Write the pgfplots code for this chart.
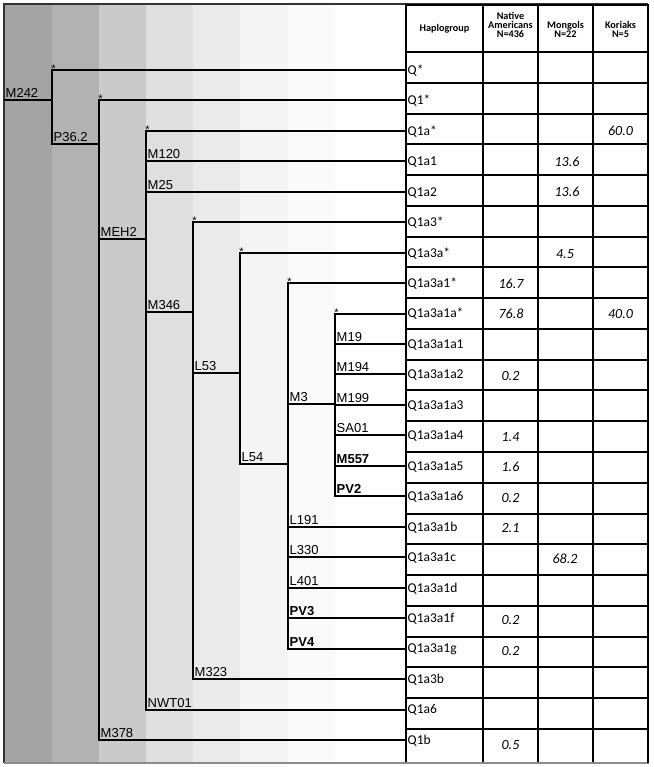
\documentclass[border=0pt]{standalone}
\usepackage{pgfplots}
\pgfplotsset{compat=1.18}
\usepackage{fontspec}
\setmainfont{Liberation Sans}
\newfontfamily\calib{Carlito}
\definecolor{bA}{HTML}{A4A4A4}
\definecolor{bB}{HTML}{B2B2B2}
\definecolor{bC}{HTML}{CACACA}
\definecolor{bD}{HTML}{DFDFDF}
\definecolor{bE}{HTML}{EAEAEA}
\definecolor{bF}{HTML}{F4F4F4}
\definecolor{bG}{HTML}{FAFAFA}
\definecolor{frm}{HTML}{333333}
\definecolor{frmb}{HTML}{8C8C8C}
\begin{document}
\begin{tikzpicture}[
  tree/.style={black, line width=2pt, line join=miter, mark=none},
  tab/.style={black, line width=2pt, mark=none},
  lab/.style={anchor=base west, inner sep=0pt, font=\fontsize{13}{14}\selectfont},
  blab/.style={anchor=base west, inner sep=0pt, font=\bfseries\fontsize{13}{14}\selectfont},
  star/.style={anchor=base, inner sep=0pt, font=\fontsize{11}{12}\selectfont},
  name/.style={anchor=base west, inner sep=0pt, font=\calib\fontsize{13.5}{14}\selectfont},
  val/.style={anchor=base, inner sep=0pt, font=\calib\itshape\fontsize{14}{14}\selectfont},
  head/.style={anchor=center, align=center, inner sep=0pt, font=\calib\bfseries\fontsize{10.2}{8.8}\selectfont},
]
\begin{axis}[scale only axis, width=653pt, height=767pt,
  xmin=0, xmax=653, ymin=0, ymax=767, y dir=reverse, hide axis, clip=false,
  unbounded coords=jump,
]
% background
\addplot[fill=white, draw=none, mark=none] coordinates {(0,0)(653,0)(653,767)(0,767)} -- cycle;
\addplot[fill=bA, draw=none, mark=none] coordinates {(4,4)(52,4)(52,763)(4,763)} -- cycle;
\addplot[fill=bB, draw=none, mark=none] coordinates {(52,4)(99,4)(99,763)(52,763)} -- cycle;
\addplot[fill=bC, draw=none, mark=none] coordinates {(99,4)(146,4)(146,763)(99,763)} -- cycle;
\addplot[fill=bD, draw=none, mark=none] coordinates {(146,4)(193,4)(193,763)(146,763)} -- cycle;
\addplot[fill=bE, draw=none, mark=none] coordinates {(193,4)(240,4)(240,763)(193,763)} -- cycle;
\addplot[fill=bF, draw=none, mark=none] coordinates {(240,4)(288,4)(288,763)(240,763)} -- cycle;
\addplot[fill=bG, draw=none, mark=none] coordinates {(288,4)(335,4)(335,763)(288,763)} -- cycle;
% frame
\addplot[frm, line width=2pt, mark=none] coordinates {(4,763)(4,4)(648,4)};
\addplot[frmb, line width=2pt, mark=none] coordinates {(4,763)(649,763)};
% tree
\addplot[tree] coordinates {(4,100)(52,100)};
\addplot[tree] coordinates {(406,70)(52,70)(52,144)(99,144)};
\addplot[tree] coordinates {(406,100)(99,100)(99,740)(406,740)};
\addplot[tree] coordinates {(99,239)(146,239)};
\addplot[tree] coordinates {(406,131)(146,131)(146,710)(406,710)};
\addplot[tree] coordinates {(146,161)(406,161)};
\addplot[tree] coordinates {(146,192)(406,192)};
\addplot[tree] coordinates {(146,312)(193,312)};
\addplot[tree] coordinates {(406,222)(193,222)(193,679)(406,679)};
\addplot[tree] coordinates {(193,373)(240,373)};
\addplot[tree] coordinates {(406,253)(240,253)(240,464)(288,464)};
\addplot[tree] coordinates {(406,283)(288,283)(288,649)(406,649)};
\addplot[tree] coordinates {(288,404)(335,404)};
\addplot[tree] coordinates {(288,527)(406,527)};
\addplot[tree] coordinates {(288,557)(406,557)};
\addplot[tree] coordinates {(288,588)(406,588)};
\addplot[tree] coordinates {(288,618)(406,618)};
\addplot[tree] coordinates {(406,314)(335,314)(335,496)(406,496)};
\addplot[tree] coordinates {(335,344)(406,344)};
\addplot[tree] coordinates {(335,374)(406,374)};
\addplot[tree] coordinates {(335,405)(406,405)};
\addplot[tree] coordinates {(335,435)(406,435)};
\addplot[tree] coordinates {(335,466)(406,466)};
% table grid
\addplot[tab] coordinates {(406,5)(648,5) (nan,nan)
 (406,52)(648,52) (nan,nan) (406,83)(648,83) (nan,nan) (406,114)(648,114) (nan,nan)
 (406,144)(648,144) (nan,nan) (406,175)(648,175) (nan,nan) (406,206)(648,206) (nan,nan)
 (406,237)(648,237) (nan,nan) (406,267)(648,267) (nan,nan) (406,298)(648,298) (nan,nan)
 (406,329)(648,329) (nan,nan) (406,360)(648,360) (nan,nan) (406,390)(648,390) (nan,nan)
 (406,421)(648,421) (nan,nan) (406,452)(648,452) (nan,nan) (406,483)(648,483) (nan,nan)
 (406,514)(648,514) (nan,nan) (406,544)(648,544) (nan,nan) (406,575)(648,575) (nan,nan)
 (406,606)(648,606) (nan,nan) (406,637)(648,637) (nan,nan) (406,667)(648,667) (nan,nan)
 (406,698)(648,698) (nan,nan) (406,729)(648,729)};
\addplot[tab] coordinates {(406,4)(406,762) (nan,nan) (483,4)(483,762) (nan,nan) (538,4)(538,762) (nan,nan) (593,4)(593,762) (nan,nan) (648,4)(648,763)};
% tree labels
\node[lab] at (axis cs:5.5,97.5) {M242};
\node[lab] at (axis cs:53.5,141.5) {P36.2};
\node[lab] at (axis cs:100.5,236.5) {MEH2};
\node[lab] at (axis cs:147.5,158.5) {M120};
\node[lab] at (axis cs:147.5,189.5) {M25};
\node[lab] at (axis cs:147.5,309.5) {M346};
\node[lab] at (axis cs:147.5,707.5) {NWT01};
\node[lab] at (axis cs:100.5,737.5) {M378};
\node[lab] at (axis cs:194.5,370.5) {L53};
\node[lab] at (axis cs:194.5,676.5) {M323};
\node[lab] at (axis cs:241.5,461.5) {L54};
\node[lab] at (axis cs:289.5,401.5) {M3};
\node[lab] at (axis cs:289.5,524.5) {L191};
\node[lab] at (axis cs:289.5,554.5) {L330};
\node[lab] at (axis cs:289.5,585.5) {L401};
\node[blab] at (axis cs:289.5,615.5) {PV3};
\node[blab] at (axis cs:289.5,646.5) {PV4};
\node[lab] at (axis cs:336.5,341.5) {M19};
\node[lab] at (axis cs:336.5,371.5) {M194};
\node[lab] at (axis cs:336.5,402.5) {M199};
\node[lab] at (axis cs:336.5,432.5) {SA01};
\node[blab] at (axis cs:336.5,463.5) {M557};
\node[blab] at (axis cs:336.5,493.5) {PV2};
% stars
\node[star] at (axis cs:53.5,72.3) {*};
\node[star] at (axis cs:100.5,102.3) {*};
\node[star] at (axis cs:147.5,133.3) {*};
\node[star] at (axis cs:194.5,224.3) {*};
\node[star] at (axis cs:241.5,255.3) {*};
\node[star] at (axis cs:289.5,285.3) {*};
\node[star] at (axis cs:336.5,316.3) {*};
% header
\node[head] at (axis cs:444.5,29) {Haplogroup};
\node[head] at (axis cs:510.5,25) {Native\\Americans\\N=436};
\node[head] at (axis cs:565.5,29.5) {Mongols\\N=22};
\node[head] at (axis cs:620.5,29.5) {Koriaks\\N=5};
% haplogroup names
\node[name] at (axis cs:407.5,74.3) {Q*};
\node[name] at (axis cs:407.5,104.3) {Q1*};
\node[name] at (axis cs:407.5,135.3) {Q1a*};
\node[name] at (axis cs:407.5,165.7) {Q1a1};
\node[name] at (axis cs:407.5,196.1) {Q1a2};
\node[name] at (axis cs:407.5,226.6) {Q1a3*};
\node[name] at (axis cs:407.5,257) {Q1a3a*};
\node[name] at (axis cs:407.5,287.5) {Q1a3a1*};
\node[name] at (axis cs:407.5,317.9) {Q1a3a1a*};
\node[name] at (axis cs:407.5,348.3) {Q1a3a1a1};
\node[name] at (axis cs:407.5,378.8) {Q1a3a1a2};
\node[name] at (axis cs:407.5,409.3) {Q1a3a1a3};
\node[name] at (axis cs:407.5,439.7) {Q1a3a1a4};
\node[name] at (axis cs:407.5,470.2) {Q1a3a1a5};
\node[name] at (axis cs:407.5,500.6) {Q1a3a1a6};
\node[name] at (axis cs:407.5,531.1) {Q1a3a1b};
\node[name] at (axis cs:407.5,561.5) {Q1a3a1c};
\node[name] at (axis cs:407.5,592) {Q1a3a1d};
\node[name] at (axis cs:407.5,622.4) {Q1a3a1f};
\node[name] at (axis cs:407.5,652.9) {Q1a3a1g};
\node[name] at (axis cs:407.5,683.3) {Q1a3b};
\node[name] at (axis cs:407.5,713.8) {Q1a6};
\node[name] at (axis cs:407.5,744.2) {Q1b};
% values
\node[val] at (axis cs:620.5,136) {60.0};
\node[val] at (axis cs:567,166.5) {13.6};
\node[val] at (axis cs:567,196.5) {13.6};
\node[val] at (axis cs:565,258) {4.5};
\node[val] at (axis cs:511,288) {16.7};
\node[val] at (axis cs:511,318.5) {76.8};
\node[val] at (axis cs:620.5,318.5) {40.0};
\node[val] at (axis cs:510.5,380) {0.2};
\node[val] at (axis cs:510.5,441) {1.4};
\node[val] at (axis cs:510.5,471.5) {1.6};
\node[val] at (axis cs:510.5,502) {0.2};
\node[val] at (axis cs:510.5,532) {2.1};
\node[val] at (axis cs:565,563) {68.2};
\node[val] at (axis cs:510.5,624.5) {0.2};
\node[val] at (axis cs:510.5,655) {0.2};
\node[val] at (axis cs:510.5,749) {0.5};
\end{axis}
\end{tikzpicture}
\end{document}
